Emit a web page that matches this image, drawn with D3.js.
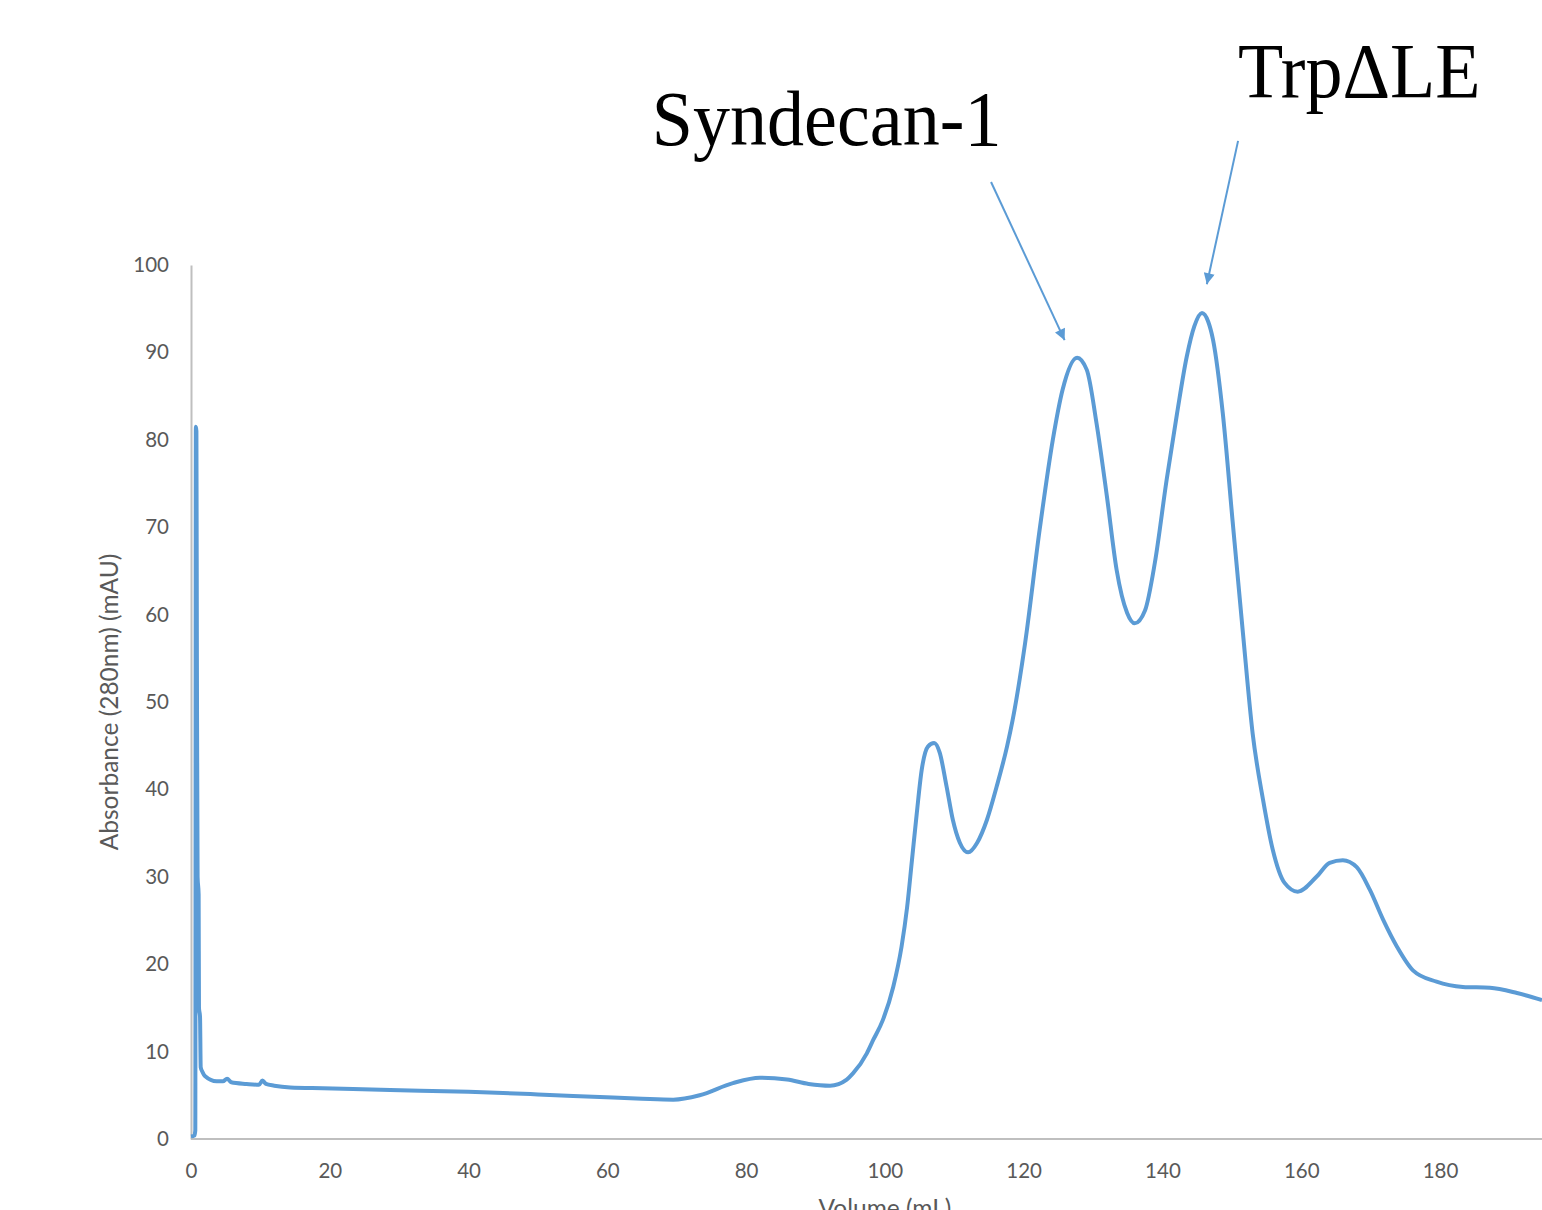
<!DOCTYPE html>
<html>
<head>
<meta charset="utf-8">
<script src="https://cdn.jsdelivr.net/npm/d3@7"></script>
<style>
  html, body { margin: 0; padding: 0; background: #fff; overflow: hidden; }
  svg { display: block; }
</style>
</head>
<body>
<div id="chart"></div>
<script>
// elution volume (mL) and absorbance at 280 nm (mAU)
const volume = [
  0, 0.5, 0.62, 0.7, 0.78, 0.85, 0.95, 1.1, 1.15, 1.3, 1.4, 1.7, 2, 3.7, 4.6, 5.2, 5.8, 8,
  9.8, 10.3, 10.8, 12, 14.3, 19, 28.7, 40, 50, 58.9, 65, 69.5, 73.3, 78.1, 82, 85.9, 89,
  92.1, 94.5, 95.4, 97.4, 98.3, 99.7, 101.2, 102.4, 103.2, 103.9, 104.6, 105.3, 106.2,
  107.1, 107.9, 108.9, 109.8, 110.8, 112, 113.3, 114.7, 116.1, 117.6, 118.4, 120.2, 122.3,
  124.2, 125.6, 127.7, 129.1, 130.5, 132, 133.4, 134.9, 136, 137.5, 138.9, 140.6, 142.1,
  143.5, 144.6, 145.7, 146.6, 147.3, 148.7, 150.1, 151.6, 153, 154.5, 155.9, 157.6, 159.5,
  162.2, 164.1, 166, 168, 169.9, 171.8, 173.8, 176.1, 179.5, 183.3, 187.2, 191.1, 194.7
];
const absorbance = [
  0.3, 0.4, 1, 81.5, 81, 55, 30, 28, 15, 14, 8.2, 7.6, 7.2, 6.6, 6.6, 6.9, 6.5, 6.3,
  6.2, 6.7, 6.3, 6.1, 5.9, 5.8, 5.6, 5.4, 5.1, 4.8, 4.6, 4.5, 5, 6.4, 7, 6.8, 6.3,
  6.1, 6.8, 7.5, 9.8, 11.3, 13.6, 17.4, 22, 26.5, 31.9, 37.3, 42.2, 44.9,
  45.3, 44.2, 40.3, 36.5, 33.9, 32.8, 33.9, 36.5, 40.3, 44.9, 47.9, 56.7, 69.7,
  80, 85.7, 89.4, 88, 81.9, 73.5, 65.1, 60.2, 59, 60.5, 65.9, 75.4, 83,
  89.5, 93, 94.5, 93.5, 91.4, 83, 70.8, 57.9, 46.4, 38.8, 33.1, 29.3, 28.3,
  30, 31.6, 31.9, 31.1, 28.5, 25.1, 22, 19.3, 18, 17.4, 17.3, 16.7, 15.9
];

const xTicks = [0, 20, 40, 60, 80, 100, 120, 140, 160, 180];
const yTicks = [0, 10, 20, 30, 40, 50, 60, 70, 80, 90, 100];

// peak labels and arrows, in data units
const labels = ["Syndecan-1", "Trp\u0394LE"];
const labelAt = [[66.4, 113.7], [150.9, 119.2]];
const arrowFrom = [[115.3, 109.5], [150.9, 114.2]];
const arrowTo = [[125.9, 91.4], [146.4, 97.8]];

const W = 1542, H = 1210;
const color = "#5b9bd5";

const x = d3.scaleLinear().domain([0, 194.7]).range([191, 1542]);
const y = d3.scaleLinear().domain([0, 100]).range([1139, 265]);

const svg = d3.select("#chart").append("svg")
    .attr("width", W)
    .attr("height", H);

const defs = svg.append("defs");
defs.append("marker")
    .attr("id", "head")
    .attr("viewBox", "0 0 10 10")
    .attr("refX", 10)
    .attr("refY", 5)
    .attr("markerWidth", 15)
    .attr("markerHeight", 11)
    .attr("markerUnits", "userSpaceOnUse")
    .attr("orient", "auto")
    .append("path")
    .attr("d", "M0,0L10,5L0,10z")
    .attr("fill", color);

// axes
const xAxis = d3.axisBottom(x).tickValues(xTicks).tickSize(0).tickPadding(24);
const yAxis = d3.axisLeft(y).tickValues(yTicks).tickSize(0).tickPadding(22);

const gx = svg.append("g")
    .attr("transform", `translate(0,${y(0)})`)
    .call(xAxis);
gx.select(".domain").attr("d", `M${x(0)},0H${W}`);

const gy = svg.append("g")
    .attr("transform", `translate(${x(0)},0)`)
    .call(yAxis);

svg.selectAll(".domain")
    .attr("stroke", "#bfbfbf")
    .attr("stroke-width", 2);
svg.selectAll(".tick text")
    .attr("font-family", "Lato, sans-serif")
    .attr("font-size", 20.5)
    .attr("fill", "#595959");

svg.append("text")
    .attr("transform", `translate(118,${(y(0) + y(100)) / 2}) rotate(-90)`)
    .attr("text-anchor", "middle")
    .attr("font-family", "Lato, sans-serif")
    .attr("font-size", 24.5)
    .attr("fill", "#595959")
    .text("Absorbance (280nm) (mAU)");

svg.append("text")
    .attr("x", 885)
    .attr("y", 1217)
    .attr("text-anchor", "middle")
    .attr("font-family", "Lato, sans-serif")
    .attr("font-size", 24.5)
    .attr("fill", "#595959")
    .text("Volume (mL)");

// trace
const pts = d3.zip(volume, absorbance);
const line = d3.line()
    .x(d => x(d[0]))
    .y(d => y(d[1]))
    .curve(d3.curveMonotoneX);

svg.append("path")
    .datum(pts)
    .attr("fill", "none")
    .attr("stroke", color)
    .attr("stroke-width", 4)
    .attr("stroke-linejoin", "round")
    .attr("d", line);

// annotations
svg.selectAll(".arrow")
    .data(d3.zip(arrowFrom, arrowTo))
    .join("line")
    .attr("class", "arrow")
    .attr("x1", d => x(d[0][0]))
    .attr("y1", d => y(d[0][1]))
    .attr("x2", d => x(d[1][0]))
    .attr("y2", d => y(d[1][1]))
    .attr("stroke", color)
    .attr("stroke-width", 2)
    .attr("marker-end", "url(#head)");

// Times in the original sets a bit narrower, so squeeze horizontally
svg.selectAll(".label")
    .data(d3.zip(labels, labelAt))
    .join("text")
    .attr("class", "label")
    .attr("transform", d => `translate(${x(d[1][0])},${y(d[1][1])}) scale(0.95,1)`)
    .attr("font-family", "'Liberation Serif', 'Times New Roman', serif")
    .attr("font-size", 78)
    .attr("fill", "#000")
    .text(d => d[0]);
</script>
</body>
</html>
